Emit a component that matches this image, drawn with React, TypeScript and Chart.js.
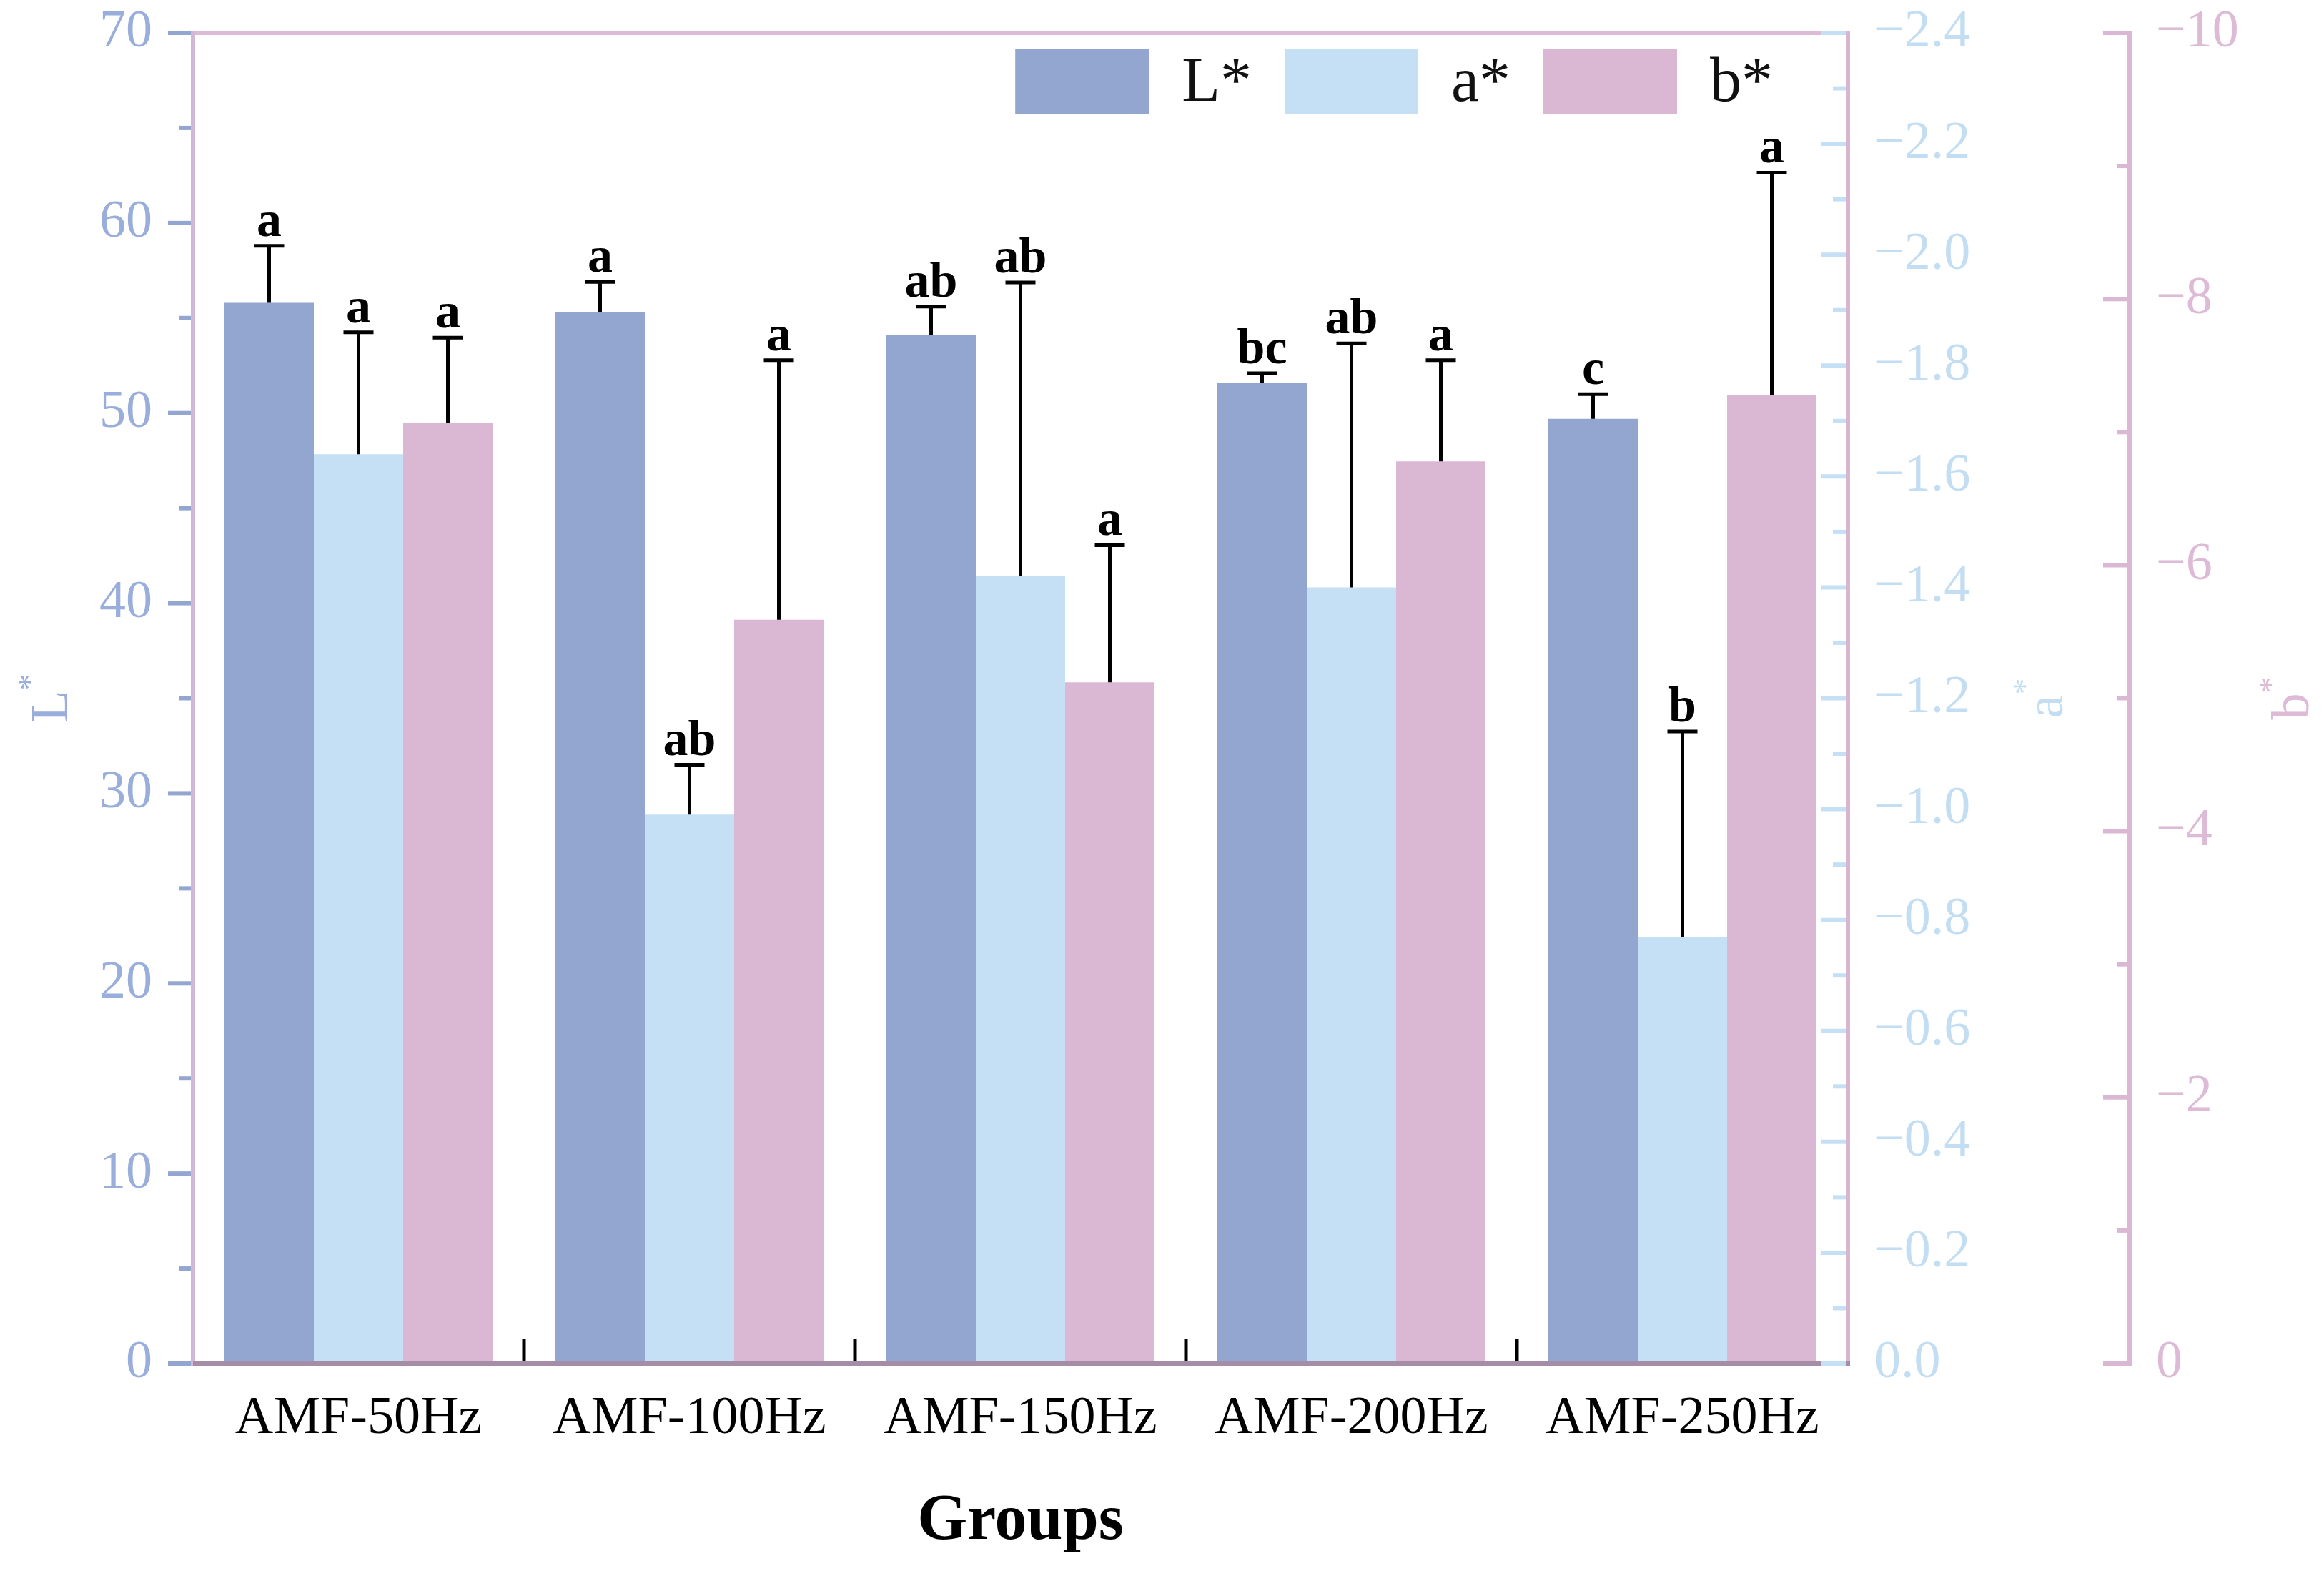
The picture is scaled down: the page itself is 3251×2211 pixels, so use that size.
import React, { useEffect, useRef } from 'react';
import { Chart, registerables } from 'chart.js';

Chart.register(...registerables);

const groups = ['AMF-50Hz', 'AMF-100Hz', 'AMF-150Hz', 'AMF-200Hz', 'AMF-250Hz'];

const lValues = [55.8, 55.3, 54.1, 51.6, 49.7];
const lErrors = [3.0, 1.6, 1.5, 0.5, 1.3];
const lLetters = ['a', 'a', 'ab', 'bc', 'c'];

const aValues = [-1.64, -0.99, -1.42, -1.4, -0.77];
const aErrors = [0.22, 0.09, 0.53, 0.44, 0.37];
const aLetters = ['a', 'ab', 'ab', 'ab', 'b'];

const bValues = [-7.07, -5.59, -5.12, -6.78, -7.28];
const bErrors = [0.64, 1.95, 1.03, 0.76, 1.67];
const bLetters = ['a', 'a', 'a', 'a', 'a'];

const seriesNames = ['L*', 'a*', 'b*'];

const L_COLOR = '#93A6D0';
const A_COLOR = '#C5E0F4';
const B_COLOR = '#DAB8D3';
const L_TEXT = '#9AAEDB';
const A_TEXT = '#C3DEF3';
const B_TEXT = '#DDBAD5';
const FONT = '"Liberation Serif", "Times New Roman", serif';

const minus = (v: number, digits: number) => {
  const r = Math.round(v * 1000) / 1000;
  if (r === 0) return (0).toFixed(digits);
  return (r < 0 ? '\u2212' : '') + Math.abs(r).toFixed(digits);
};

const decorPlugin = {
  id: 'decor',
  afterDatasetsDraw(chart: any) {
    const ctx = chart.ctx;
    const series = [
      { axis: 'y', vals: lValues, errs: lErrors, letters: lLetters, sign: 1 },
      { axis: 'y1', vals: aValues, errs: aErrors, letters: aLetters, sign: -1 },
      { axis: 'y2', vals: bValues, errs: bErrors, letters: bLetters, sign: -1 },
    ];
    ctx.save();
    series.forEach((s, di) => {
      const meta = chart.getDatasetMeta(di);
      const scale = chart.scales[s.axis];
      meta.data.forEach((bar: any, i: number) => {
        const x = bar.x;
        const yBar = scale.getPixelForValue(s.vals[i]);
        const yTop = scale.getPixelForValue(s.vals[i] + s.sign * s.errs[i]);
        ctx.strokeStyle = '#000';
        ctx.lineWidth = 5;
        ctx.beginPath();
        ctx.moveTo(x, yBar);
        ctx.lineTo(x, yTop);
        ctx.moveTo(x - 21, yTop);
        ctx.lineTo(x + 21, yTop);
        ctx.stroke();
        ctx.fillStyle = '#000';
        ctx.font = `bold 70px ${FONT}`;
        ctx.textAlign = 'center';
        ctx.textBaseline = 'alphabetic';
        ctx.fillText(s.letters[i], x, yTop - 14);
      });
    });
    ctx.restore();
  },
  afterDraw(chart: any) {
    const ctx = chart.ctx;
    const ca = chart.chartArea;
    const sy = chart.scales.y;
    const sa = chart.scales.y1;
    const sb = chart.scales.y2;
    const sx = chart.scales.x;
    ctx.save();
    ctx.lineCap = 'butt';

    // frame
    ctx.lineWidth = 6;
    ctx.strokeStyle = '#DDBBD6';
    ctx.beginPath();
    ctx.moveTo(ca.left, ca.top);
    ctx.lineTo(ca.right, ca.top);
    ctx.stroke();
    ctx.strokeStyle = '#D8B6D2';
    ctx.beginPath();
    ctx.moveTo(ca.right, ca.top - 3);
    ctx.lineTo(ca.right, ca.bottom);
    ctx.stroke();
    ctx.strokeStyle = '#D3B7D9';
    ctx.beginPath();
    ctx.moveTo(ca.left, ca.top - 3);
    ctx.lineTo(ca.left, ca.bottom + 3);
    ctx.stroke();
    ctx.strokeStyle = '#A58DA7';
    ctx.lineWidth = 7;
    ctx.beginPath();
    ctx.moveTo(ca.left, ca.bottom);
    ctx.lineTo(ca.right + 3, ca.bottom);
    ctx.stroke();

    // left ticks
    ctx.strokeStyle = L_COLOR;
    ctx.lineWidth = 6;
    for (let v = 0; v <= 70; v += 5) {
      const y = sy.getPixelForValue(v);
      const len = v % 10 === 0 ? 32 : 16;
      ctx.beginPath();
      ctx.moveTo(ca.left - len - 3, y);
      ctx.lineTo(ca.left - 3, y);
      ctx.stroke();
    }
    // a* ticks (inside, on right frame)
    ctx.strokeStyle = A_COLOR;
    for (let k = 0; k <= 24; k++) {
      const y = sa.getPixelForValue(-k / 10);
      const len = k % 2 === 0 ? 35 : 18;
      ctx.beginPath();
      ctx.moveTo(ca.right - 3 - len, y);
      ctx.lineTo(ca.right - 3, y);
      ctx.stroke();
    }
    // b* axis
    const bx = sb.left;
    ctx.strokeStyle = B_COLOR;
    ctx.beginPath();
    ctx.moveTo(bx, ca.top - 3);
    ctx.lineTo(bx, ca.bottom + 3);
    ctx.stroke();
    for (let k = 0; k <= 10; k++) {
      const y = sb.getPixelForValue(-k);
      const len = k % 2 === 0 ? 37 : 18;
      ctx.beginPath();
      ctx.moveTo(bx - len, y);
      ctx.lineTo(bx, y);
      ctx.stroke();
    }
    // category separators
    ctx.strokeStyle = '#000';
    ctx.lineWidth = 5;
    for (let i = 0; i < groups.length - 1; i++) {
      const x = (sx.getPixelForValue(i) + sx.getPixelForValue(i + 1)) / 2;
      ctx.beginPath();
      ctx.moveTo(x, ca.bottom - 4);
      ctx.lineTo(x, ca.bottom - 34);
      ctx.stroke();
    }

    // legend (inside plot, top right)
    const colors = chart.data.datasets.map((d: any) => d.backgroundColor);
    const labels = chart.data.datasets.map((d: any) => d.label);
    const boxW = 187;
    const boxH = 91;
    const gapBT = 46;
    const gapTB = 46;
    ctx.font = `88px ${FONT}`;
    const widths = labels.map((t: string) => ctx.measureText(t).width);
    let total = 0;
    widths.forEach((w: number, i: number) => {
      total += boxW + gapBT + w + (i < widths.length - 1 ? gapTB : 0);
    });
    let lx = ca.right - 105 - total;
    const ly = ca.top + 22;
    labels.forEach((t: string, i: number) => {
      ctx.fillStyle = colors[i];
      ctx.fillRect(lx, ly, boxW, boxH);
      lx += boxW + gapBT;
      ctx.fillStyle = '#111';
      ctx.textAlign = 'left';
      ctx.textBaseline = 'middle';
      ctx.font = `88px ${FONT}`;
      ctx.fillText(t, lx, ly + boxH / 2 + 4);
      lx += widths[i] + gapTB;
    });

    // rotated axis titles with superscript star
    const midY = (ca.top + ca.bottom) / 2;
    const drawTitle = (letter: string, x: number, color: string) => {
      ctx.save();
      ctx.translate(x, midY);
      ctx.rotate(-Math.PI / 2);
      ctx.fillStyle = color;
      ctx.font = `74px ${FONT}`;
      const w = ctx.measureText(letter).width;
      ctx.font = `46px ${FONT}`;
      const ws = ctx.measureText('*').width;
      const tw = w + ws;
      ctx.textAlign = 'left';
      ctx.textBaseline = 'middle';
      ctx.font = `74px ${FONT}`;
      ctx.fillText(letter, -tw / 2, 0);
      ctx.font = `46px ${FONT}`;
      ctx.fillText('*', -tw / 2 + w, -30);
      ctx.restore();
    };
    drawTitle('L', 75, L_TEXT);
    drawTitle('a', 2866, A_TEXT);
    drawTitle('b', 3210, B_TEXT);

    ctx.restore();
  },
};

const fitY = (w: number) => (s: any) => {
  s.width = w;
  s.paddingTop = 0;
  s.paddingBottom = 0;
};

export default function App() {
  const ref = useRef<HTMLCanvasElement>(null);
  useEffect(() => {
    document.body.style.margin = '0';
    const chart = new Chart(ref.current as HTMLCanvasElement, {
      type: 'bar',
      data: {
        labels: groups,
        datasets: [
          { label: seriesNames[0], data: lValues, yAxisID: 'y', backgroundColor: L_COLOR, borderWidth: 0 },
          { label: seriesNames[1], data: aValues, yAxisID: 'y1', backgroundColor: A_COLOR, borderWidth: 0 },
          { label: seriesNames[2], data: bValues, yAxisID: 'y2', backgroundColor: B_COLOR, borderWidth: 0 },
        ],
      },
      options: {
        responsive: false,
        animation: false,
        devicePixelRatio: 1,
        layout: { padding: { top: 46, left: 0, right: 0, bottom: 0 } },
        datasets: { bar: { categoryPercentage: 0.81, barPercentage: 1.0 } },
        plugins: {
          tooltip: { enabled: false },
          legend: { display: false },
        },
        scales: {
          x: {
            type: 'category',
            position: 'bottom',
            grid: { display: false, drawTicks: false },
            border: { display: false },
            ticks: { color: '#000', font: { family: FONT, size: 74 }, padding: 33, maxRotation: 0 },
            title: {
              display: true,
              text: 'Groups',
              color: '#000',
              font: { family: FONT, size: 90, weight: 'bold' },
              padding: { top: 0, bottom: 28 },
            },
            afterFit: (s: any) => {
              s.height = 304;
              s.paddingLeft = 0;
              s.paddingRight = 0;
            },
          },
          y: {
            position: 'left',
            min: 0,
            max: 70,
            grid: { display: false, drawTicks: false },
            border: { display: false },
            ticks: { stepSize: 10, color: L_TEXT, font: { family: FONT, size: 74 }, padding: 57 },
            afterFit: fitY(270),
          },
          y1: {
            position: 'right',
            weight: 0,
            min: -2.4,
            max: 0,
            reverse: true,
            grid: { display: false, drawTicks: false },
            border: { display: false },
            ticks: {
              stepSize: 0.2,
              color: A_TEXT,
              font: { family: FONT, size: 74 },
              padding: 37,
              callback: (v: any) => minus(Number(v), 1),
            },
            afterFit: fitY(394),
          },
          y2: {
            position: 'right',
            weight: 1,
            min: -10,
            max: 0,
            reverse: true,
            grid: { display: false, drawTicks: false },
            border: { display: false },
            ticks: {
              stepSize: 2,
              color: B_TEXT,
              font: { family: FONT, size: 74 },
              padding: 37,
              callback: (v: any) => minus(Number(v), 0),
            },
            afterFit: fitY(272),
          },
        },
      } as any,
      plugins: [decorPlugin],
    });
    return () => chart.destroy();
  }, []);
  return (
    <div style={{ position: 'fixed', left: 0, top: 0, width: 3251, height: 2211, background: '#fff' }}>
      <canvas ref={ref} width={3251} height={2211} style={{ width: '3251px', height: '2211px', display: 'block' }} />
    </div>
  );
}
